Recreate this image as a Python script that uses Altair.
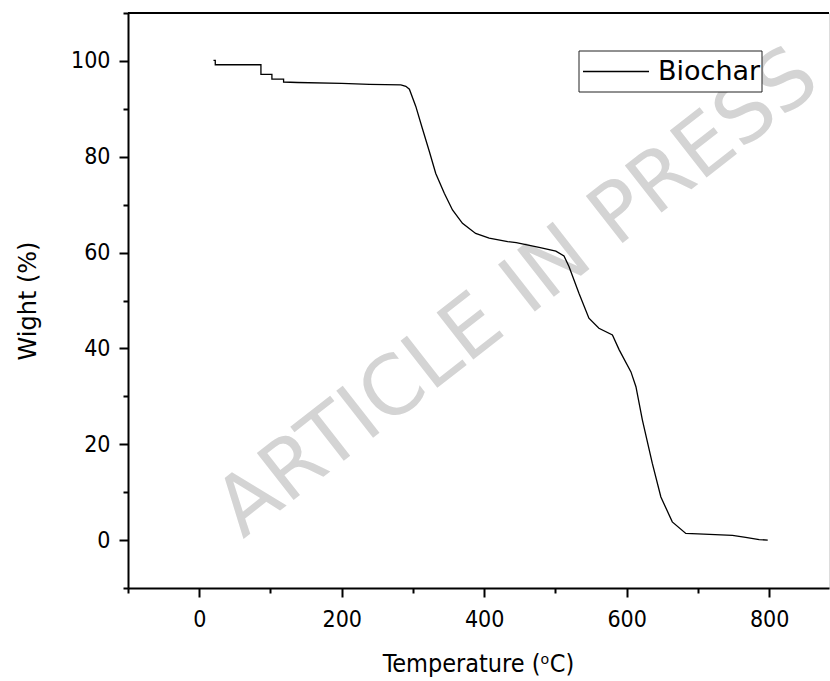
import altair as alt
import pandas as pd

# Temperature (°C) and weight (%)
temperature = [20, 22.5, 22.5, 86.6, 86.6, 102, 102, 118.4, 118.4, 138, 200, 239, 283,
               290, 295, 304, 313, 323, 332, 344, 355.5, 369.5, 388, 407, 433, 445,
               477, 500.6, 512, 519, 533, 547, 561, 580, 589.5, 606, 613, 622, 636,
               648, 664, 683, 700, 748.5, 767, 786, 798]
weight = [100.1, 100.1, 99.2, 99.2, 97.2, 97.2, 96.2, 96.2, 95.6, 95.5, 95.3, 95.1, 95.0,
          94.7, 94.1, 90.5, 86.0, 81.1, 76.5, 72.4, 68.9, 66.1, 64.0, 63.0, 62.3, 62.1,
          61.1, 60.3, 59.3, 57.1, 51.5, 46.3, 44.2, 42.8, 39.7, 35.1, 32.0, 25.1, 16.0,
          9.0, 3.8, 1.4, 1.3, 1.0, 0.55, 0.1, 0.0]

series_name = "Biochar"
watermark = "ARTICLE IN PRESS"
x_title = "Temperature (\u1d52C)"
y_title = "Wight (%)"

df = pd.DataFrame({"T": temperature, "W": weight, "i": list(range(len(temperature)))})

W, H = 701, 575
TICK_FONT = "DejaVu Sans Condensed, DejaVu Sans"

x_axis = alt.Axis(
    values=list(range(-100, 900, 100)),
    labelExpr="datum.value % 200 === 0 ? datum.label : ''",
    tickSize={"condition": {"test": "datum.value % 200 === 0", "value": 9}, "value": 5},
    tickWidth=2, tickColor="black", domainWidth=2, domainColor="black",
    labelFont=TICK_FONT, labelFontSize=23, labelColor="black", labelPadding=11,
    labelOverlap=False, grid=False,
    title=x_title, titleFont=TICK_FONT, titleFontSize=25, titleFontWeight="normal",
    titleColor="black", titleX=350, titleY=75, titleBaseline="middle", titleAlign="center",
)
y_axis = alt.Axis(
    values=list(range(-10, 111, 10)),
    labelExpr="datum.value % 20 === 0 ? datum.label : ''",
    tickSize={"condition": {"test": "datum.value % 20 === 0", "value": 9}, "value": 5},
    tickWidth=2, tickColor="black", domainWidth=2, domainColor="black",
    labelFont=TICK_FONT, labelFontSize=23, labelColor="black", labelPadding=9,
    labelOverlap=False, grid=False,
    title=y_title, titleFont="DejaVu Sans", titleFontSize=24, titleFontWeight="normal",
    titleColor="black", titleX=-100, titleY=H / 2, titleAngle=270,
    titleBaseline="middle", titleAlign="center",
)

x_scale = alt.Scale(domain=[-100, 884], nice=False, zero=False)
y_scale = alt.Scale(domain=[-10, 110], nice=False, zero=False)

mark_df = pd.DataFrame({"label": [watermark]})
wm = alt.Chart(mark_df).mark_text(
    font="DejaVu Sans", fontSize=82, color="#d4d4d4", angle=322,
    align="center", baseline="alphabetic",
).encode(text="label:N", x=alt.value(405), y=alt.value(300))

line = alt.Chart(df).mark_line(color="black", strokeWidth=1.3).encode(
    x=alt.X("T:Q", scale=x_scale, axis=x_axis),
    y=alt.Y("W:Q", scale=y_scale, axis=y_axis),
    order="i:Q",
)

top = alt.Chart(df).mark_rule(color="black", strokeWidth=2).encode(
    x=alt.value(0), x2=alt.value(W), y=alt.value(0)
)

leg_df = pd.DataFrame({"label": [series_name]})
leg_box = alt.Chart(leg_df).mark_rect(fill="white", stroke="#222222", strokeWidth=1).encode(
    x=alt.value(451), x2=alt.value(634), y=alt.value(38), y2=alt.value(79)
)
leg_line = alt.Chart(leg_df).mark_rule(color="black", strokeWidth=1.3).encode(
    x=alt.value(455), x2=alt.value(521), y=alt.value(58.5)
)
leg_text = alt.Chart(leg_df).mark_text(
    font="DejaVu Sans", fontSize=27, color="black", align="left", baseline="middle"
).encode(text="label:N", x=alt.value(530), y=alt.value(59))

chart = alt.layer(wm, line, top, leg_box, leg_line, leg_text).properties(
    width=W, height=H,
    autosize=alt.AutoSizeParams(type="none"),
    padding={"left": 128, "top": 13, "right": 1, "bottom": 93},
).configure_view(stroke=None).configure(background="white")

chart.save("out.html", embed_options={"renderer": "svg", "actions": False})
